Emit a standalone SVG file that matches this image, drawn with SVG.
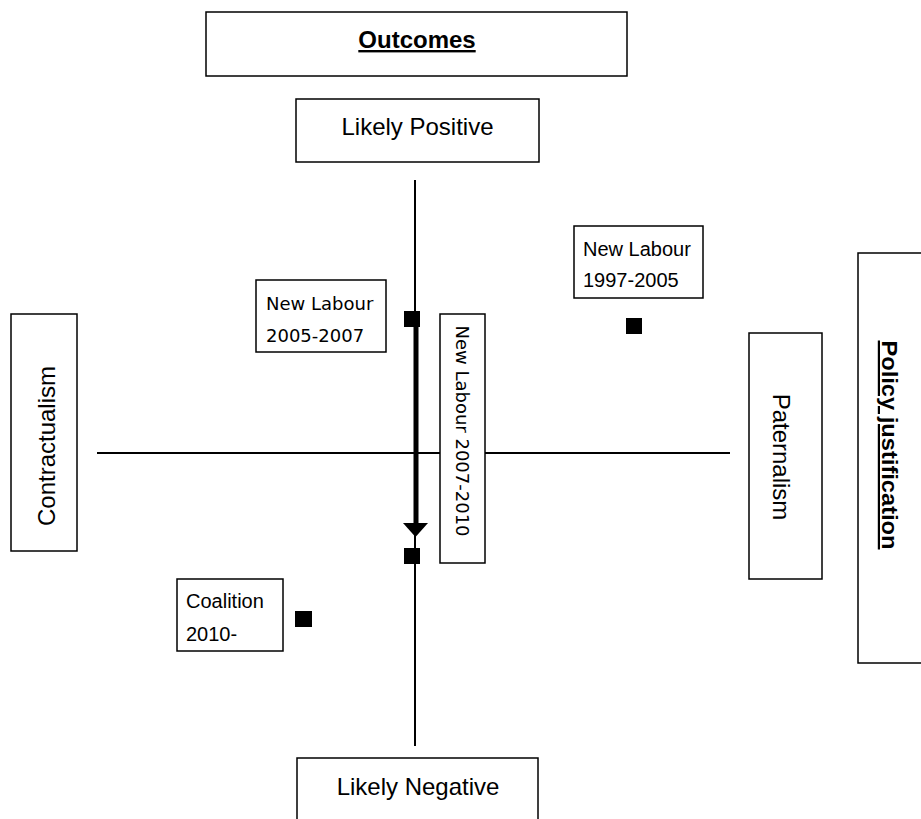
<svg xmlns="http://www.w3.org/2000/svg" width="921" height="819" viewBox="0 0 921 819">
<style>
.box{fill:#fff;stroke:#000;stroke-width:1.5}
.t{font-family:"Liberation Sans",Arial,sans-serif;fill:#000}
.dv{font-family:"DejaVu Sans",Verdana,sans-serif;fill:#000;font-size:18px}
.ax{stroke:#000;stroke-width:2;fill:none}
.pt{fill:#000}
</style>
<rect width="921" height="819" fill="#fff"/>
<g id="connectors">
<line class="ax" x1="415" y1="180" x2="415" y2="746"/>
<line class="ax" x1="97" y1="453" x2="730" y2="453"/>
<line x1="416" y1="327" x2="416" y2="524" stroke="#000" stroke-width="5"/>
<polygon points="403,523 428,523 415.5,537" fill="#000"/>
</g>
<g id="outcomes">
<rect class="box" x="206" y="12" width="421" height="64"/>
<text class="t" x="417" y="48" font-size="24" font-weight="bold" text-anchor="middle" text-decoration="underline">Outcomes</text>
</g>
<g id="likely-positive">
<rect class="box" x="296" y="99" width="243" height="63"/>
<text class="t" x="417.5" y="135" font-size="24" text-anchor="middle">Likely Positive</text>
</g>
<g id="likely-negative">
<rect class="box" x="297" y="758" width="241" height="70"/>
<text class="t" x="418" y="795" font-size="24" text-anchor="middle">Likely Negative</text>
</g>
<g id="contractualism">
<rect class="box" x="11" y="314" width="66" height="237"/>
<text class="t" font-size="24" text-anchor="middle" transform="translate(55,446) rotate(-90)">Contractualism</text>
</g>
<g id="paternalism">
<rect class="box" x="749" y="333" width="73" height="246"/>
<text class="t" font-size="24" text-anchor="middle" transform="translate(773,457) rotate(90)">Paternalism</text>
</g>
<g id="policy-justification">
<rect class="box" x="858" y="253" width="80" height="410"/>
<text class="t" font-size="22" font-weight="bold" text-anchor="middle" text-decoration="underline" transform="translate(882,445) rotate(90)" textLength="209" lengthAdjust="spacingAndGlyphs">Policy justification</text>
</g>
<g id="nl-1997-2005">
<rect class="box" x="574" y="226" width="129" height="72"/>
<text class="t" x="583" y="256" font-size="20">New Labour</text>
<text class="t" x="583" y="287" font-size="20">1997-2005</text>
<rect class="pt" x="626" y="318" width="16" height="16"/>
</g>
<g id="nl-2005-2007">
<rect class="box" x="256" y="280" width="130" height="72"/>
<text class="dv" x="266" y="310">New Labour</text>
<text class="dv" x="266" y="342">2005-2007</text>
<rect class="pt" x="404" y="311" width="16" height="16"/>
</g>
<g id="nl-2007-2010">
<rect class="box" x="440" y="314" width="45" height="249"/>
<text class="dv" text-anchor="middle" transform="translate(456,431) rotate(90)">New Labour 2007-2010</text>
<rect class="pt" x="404" y="548" width="16" height="16"/>
</g>
<g id="coalition">
<rect class="box" x="177" y="579" width="106" height="72"/>
<text class="t" x="186" y="608" font-size="20">Coalition</text>
<text class="t" x="186" y="641" font-size="20">2010-</text>
<rect class="pt" x="295" y="611" width="17" height="16"/>
</g>
</svg>
